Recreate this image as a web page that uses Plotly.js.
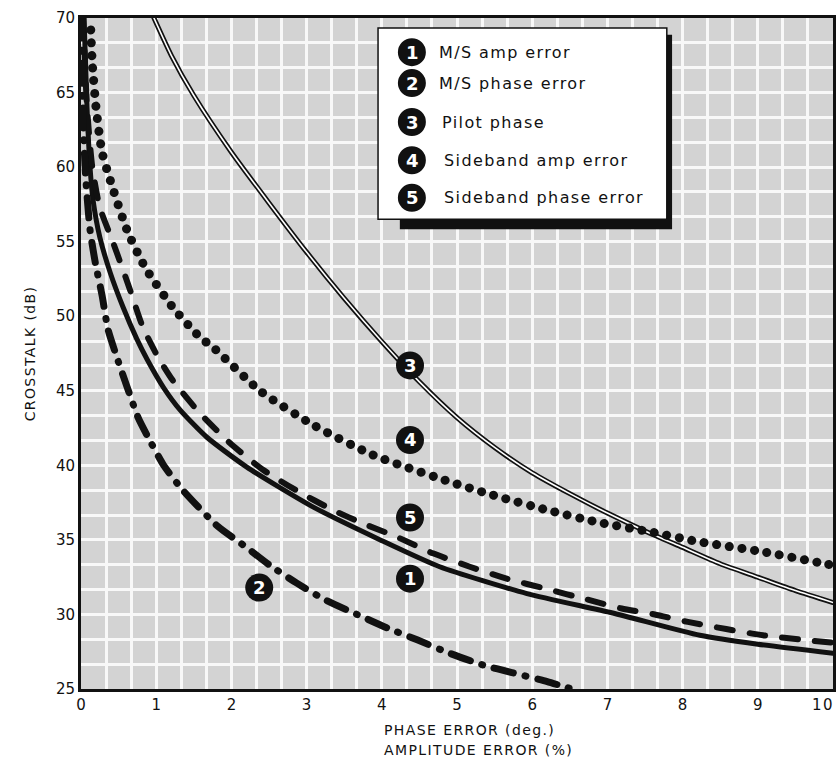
<!DOCTYPE html>
<html>
<head>
<meta charset="utf-8">
<script src="https://cdn.plot.ly/plotly-3.0.1.min.js"></script>
<style>
  body { margin: 0; background: #fff; }
  #chart { width: 838px; height: 761px; }
  .js-line { stroke-linecap: round; }
  .annotation-text { letter-spacing: 1.4px; }
</style>
</head>
<body>
<div id="chart"></div>
<script>
// ---- data ----
const seriesNames = ["M/S amp error", "M/S phase error", "Pilot phase", "Sideband amp error", "Sideband phase error"];

const msAmpX = [0.04, 0.08, 0.12, 0.16, 0.25, 0.39, 0.56, 0.74, 0.88, 1.1, 1.32, 1.67, 2.2, 3.09, 3.98, 4.77, 5.93, 7.07, 8.23, 9.0, 10];
const msAmpY = [70, 64, 60, 57.8, 55.3, 52.9, 50.6, 48.5, 47.1, 45.2, 43.7, 41.9, 39.9, 37.2, 35.0, 33.2, 31.4, 30.1, 28.6, 28.0, 27.4];

const msPhaseX = [0.01, 0.03, 0.06, 0.12, 0.19, 0.28, 0.36, 0.48, 0.61, 0.76, 0.88, 1.1, 1.36, 1.82, 2.2, 2.51, 2.87, 3.24, 3.67, 4.07, 4.47, 4.9, 5.35, 5.73, 6.2, 6.46, 6.6];
const msPhaseY = [70, 63, 59.5, 55.8, 53.6, 51.4, 49.1, 47.2, 45.3, 43.2, 42.0, 40.0, 38.3, 35.9, 34.5, 33.3, 32.1, 31.0, 30.0, 29.1, 28.3, 27.4, 26.6, 26.1, 25.5, 25.1, 24.9];

const pilotX = [0.97, 1.2, 1.5, 2.0, 2.5, 3.0, 3.5, 4.0, 4.5, 5.0, 5.5, 6.0, 6.5, 7.0, 7.5, 8.0, 8.5, 9.0, 9.5, 10];
const pilotY = [70, 67.5, 64.8, 61.0, 57.6, 54.3, 51.2, 48.3, 45.6, 43.2, 41.2, 39.5, 38.1, 36.8, 35.6, 34.5, 33.4, 32.5, 31.6, 30.8];

const sbAmpX = [0.13, 0.15, 0.2, 0.28, 0.39, 0.61, 0.85, 1.22, 1.58, 1.76, 2.38, 3.09, 3.88, 4.84, 5.48, 6.2, 6.86, 7.61, 8.19, 9.07, 9.79, 10];
const sbAmpY = [69.2, 67, 64, 61.0, 59.1, 55.8, 53.3, 50.6, 48.6, 47.9, 45.0, 42.7, 40.7, 39.0, 38.0, 37.0, 36.2, 35.5, 34.9, 34.2, 33.5, 33.3];

const sbPhaseX = [0.03, 0.08, 0.15, 0.25, 0.43, 0.65, 0.82, 1.02, 1.22, 1.58, 1.98, 2.42, 2.87, 3.35, 3.75, 4.2, 4.68, 5.17, 5.66, 6.2, 6.73, 7.19, 7.63, 8.07, 9.07, 10];
const sbPhaseY = [70, 64, 60, 57.3, 54.9, 51.8, 49.3, 47.3, 45.7, 43.5, 41.5, 39.7, 38.3, 37.0, 36.1, 35.2, 34.1, 33.2, 32.4, 31.7, 31.0, 30.4, 30.0, 29.5, 28.6, 28.1];

const xTickVals = [0, 1, 2, 3, 4, 5, 6, 7, 8, 9];
const xLastTick = 10;
const yTickVals = [25, 30, 35, 40, 45, 50, 55, 60, 65, 70];

// ---- traces ----
const common = {type: 'scatter', mode: 'lines', hoverinfo: 'skip', showlegend: false};
const sm = {shape: 'spline', smoothing: 0.6};
const traces = [
  Object.assign({}, common, {x: pilotX, y: pilotY, name: seriesNames[2],
    line: Object.assign({color: '#111', width: 5}, sm)}),
  Object.assign({}, common, {x: pilotX, y: pilotY, name: seriesNames[2],
    line: Object.assign({color: '#fff', width: 1.6}, sm)}),
  Object.assign({}, common, {x: msAmpX, y: msAmpY, name: seriesNames[0],
    line: Object.assign({color: '#111', width: 5}, sm)}),
  Object.assign({}, common, {x: sbPhaseX, y: sbPhaseY, name: seriesNames[4],
    line: Object.assign({color: '#111', width: 6, dash: '16px,17px'}, sm)}),
  Object.assign({}, common, {x: msPhaseX, y: msPhaseY, name: seriesNames[1],
    line: Object.assign({color: '#111', width: 7, dash: '20px,12px,1px,12px'}, sm)}),
  Object.assign({}, common, {x: sbAmpX, y: sbAmpY, name: seriesNames[3],
    line: Object.assign({color: '#111', width: 9, dash: '0.1px,12.6px'}, sm)})
];

// ---- numbered markers ----
const shapes = [];
const annotations = [];
function badge(num, x, y, ref) {
  const xr = ref === 'paper' ? 'paper' : 'x';
  const yr = ref === 'paper' ? 'paper' : 'y';
  shapes.push({type: 'circle', xref: xr, yref: yr, xsizemode: 'pixel', ysizemode: 'pixel',
    xanchor: x, yanchor: y, x0: -14, x1: 14, y0: -14, y1: 14,
    fillcolor: '#111', line: {width: 0}, layer: 'above'});
  annotations.push({xref: xr, yref: yr, x: x, y: y, xshift: 0.7, text: '<b>' + num + '</b>', showarrow: false,
    font: {family: 'DejaVu Sans', size: 18, color: '#fff'}, xanchor: 'center', yanchor: 'middle'});
}
// labels on the curves
badge(3, 4.375, 46.7);
badge(4, 4.375, 41.7);
badge(5, 4.375, 36.5);
badge(1, 4.375, 32.4);
badge(2, 2.37, 31.8);

// legend box
shapes.push({type: 'rect', xref: 'paper', yref: 'paper', x0: 0.424, x1: 0.786, y0: 0.685, y1: 0.975,
  fillcolor: '#111', line: {width: 0}, layer: 'above'});
shapes.push({type: 'rect', xref: 'paper', yref: 'paper', x0: 0.395, x1: 0.779, y0: 0.700, y1: 0.985,
  fillcolor: '#fff', line: {color: '#111', width: 1.5}, layer: 'above'});
const legY = [0.949, 0.903, 0.845, 0.788, 0.732];
const legTextX = [0.473, 0.473, 0.477, 0.480, 0.480];
seriesNames.forEach((nm, k) => {
  badge(k + 1, 0.440, legY[k], 'paper');
  annotations.push({xref: 'paper', yref: 'paper', x: legTextX[k], y: legY[k], text: nm,
    showarrow: false, xanchor: 'left', yanchor: 'middle',
    font: {family: 'DejaVu Sans', size: 16, color: '#111'}});
});

// last x tick label, kept inside the page at the right edge
annotations.push({xref: 'x', yref: 'paper', x: xLastTick, y: -0.024, xanchor: 'right', yanchor: 'middle',
  xshift: 3, text: String(xLastTick), showarrow: false, font: {family: 'DejaVu Sans', size: 15, color: '#111'}});

// axis titles
annotations.push({xref: 'paper', yref: 'paper', x: 0.4, y: -0.061, xanchor: 'left', yanchor: 'middle',
  text: 'PHASE ERROR (deg.)', showarrow: false, font: {family: 'DejaVu Sans', size: 14, color: '#111'}});
annotations.push({xref: 'paper', yref: 'paper', x: 0.4, y: -0.091, xanchor: 'left', yanchor: 'middle',
  text: 'AMPLITUDE ERROR (%)', showarrow: false, font: {family: 'DejaVu Sans', size: 14, color: '#111'}});
annotations.push({xref: 'paper', yref: 'paper', x: -0.068, y: 0.5, xanchor: 'center', yanchor: 'middle',
  text: 'CROSSTALK (dB)', textangle: -90, showarrow: false, font: {family: 'DejaVu Sans', size: 14, color: '#111'}});

const gridCol = '#f8f8f8';
const layout = {
  width: 838, height: 761,
  margin: {l: 81, r: 5, t: 18, b: 72},
  paper_bgcolor: '#fff',
  plot_bgcolor: '#d3d3d3',
  xaxis: {range: [0, 10], tickvals: xTickVals, ticktext: xTickVals.map(String),
    showline: true, linecolor: '#111', linewidth: 3, mirror: true, ticks: '',
    showgrid: true, gridcolor: gridCol, gridwidth: 3, zeroline: false,
    minor: {dtick: 1/3, showgrid: true, gridcolor: gridCol, gridwidth: 3, ticks: ''},
    tickfont: {family: 'DejaVu Sans', size: 15, color: '#111'}, fixedrange: true},
  yaxis: {range: [25, 70], tickvals: yTickVals, ticktext: yTickVals.map(String),
    showline: true, linecolor: '#111', linewidth: 3, mirror: true, ticks: '',
    showgrid: true, gridcolor: gridCol, gridwidth: 3, zeroline: false,
    minor: {dtick: 5/3, showgrid: true, gridcolor: gridCol, gridwidth: 3, ticks: ''},
    tickfont: {family: 'DejaVu Sans', size: 15, color: '#111'}, fixedrange: true},
  shapes: shapes,
  annotations: annotations,
  showlegend: false
};

Plotly.newPlot('chart', traces, layout, {displayModeBar: false, staticPlot: true});
</script>
</body>
</html>
